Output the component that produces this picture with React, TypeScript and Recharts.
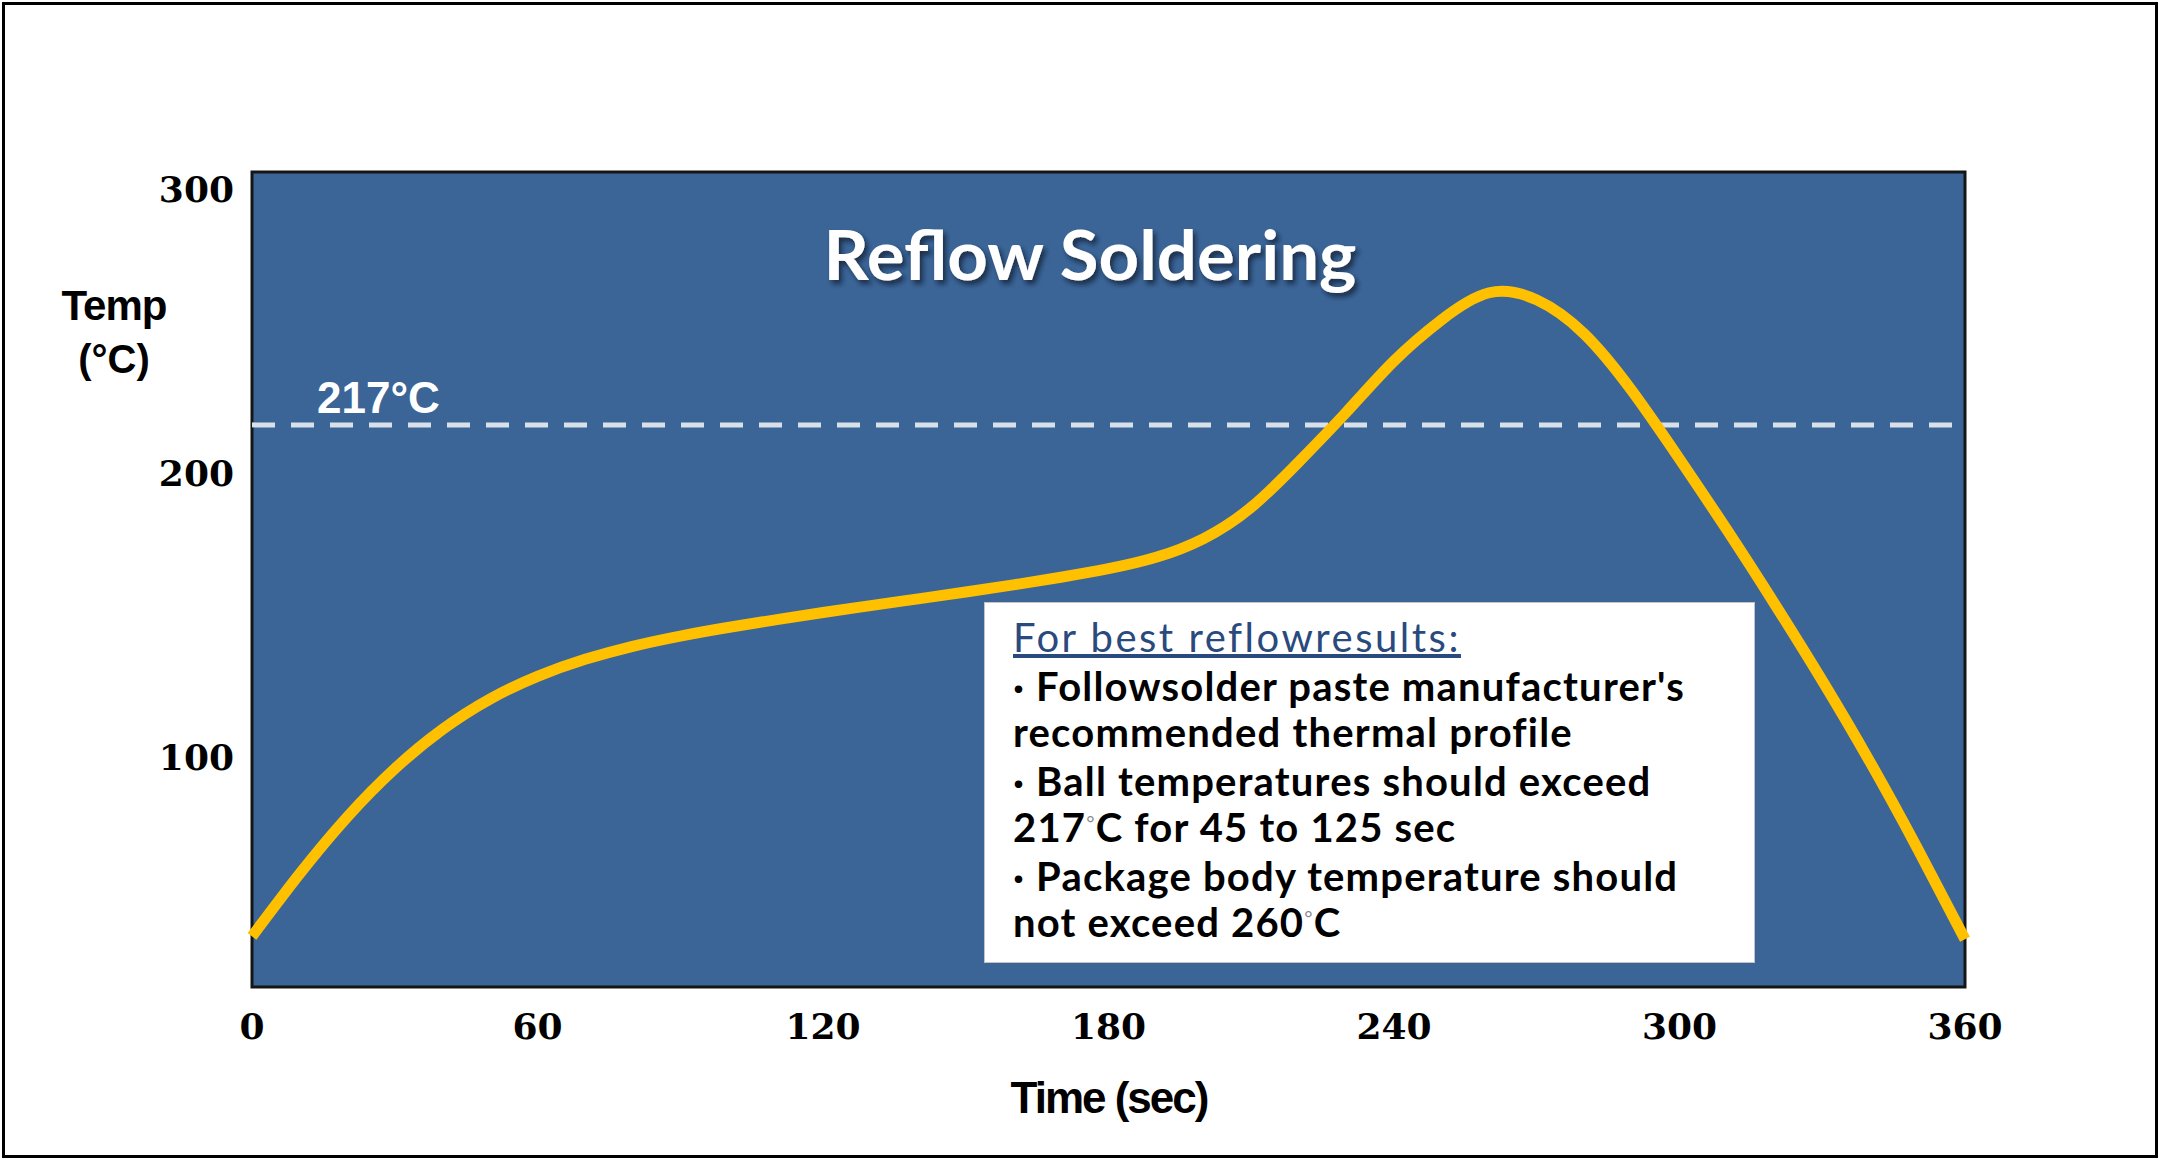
import {
  CartesianGrid,
  Line,
  LineChart,
  ReferenceArea,
  ReferenceLine,
  XAxis,
  YAxis,
} from "recharts";

// reflow profile, every 10 s
const timeSec = [0, 10, 20, 30, 40, 50, 60, 70, 80, 90, 100, 110, 120, 130, 140, 150, 160, 170, 180, 190, 200, 210, 220, 230, 240, 250, 260, 270, 280, 290, 300, 310, 320, 330, 340, 350, 360];
const tempC = [37, 59, 79, 96, 109.8, 120.5, 128.5, 134.5, 139.1, 142.7, 145.7, 148.4, 151, 153.4, 155.8, 158.2, 160.7, 163.4, 166.4, 170.4, 177, 188, 204, 221.5, 239.5, 254, 263.5, 261, 249, 229, 205, 180, 154, 127, 98.5, 68, 36];

const xTicks = [0, 60, 120, 180, 240, 300, 360];
const yTicks = [100, 200, 300];
const yDomain = [19.2, 306];
const liquidusC = 217;

const noteTitle = "For best reflowresults:";
const noteLines = [
  { text: "· Followsolder paste manufacturer's", bullet: true },
  { text: "recommended thermal profile", bullet: false },
  { text: "· Ball temperatures should exceed", bullet: true },
  { text: "217°C for 45 to 125 sec", bullet: false },
  { text: "· Package body temperature should", bullet: true },
  { text: "not exceed 260°C", bullet: false },
];

const profile = timeSec.map((t, i) => ({ t, temp: tempC[i] }));

const tickStyle = {
  fill: "#000",
  fontFamily: "DejaVu Serif",
  fontWeight: 700,
  fontSize: 36,
};

const PLOT_BG = "#3B6597";

function renderDegree(text: string) {
  // small grey degree mark like the original
  const parts = text.split("°");
  if (parts.length < 2) return text;
  return (
    <>
      {parts[0]}
      <span style={{ fontSize: 20, color: "#888", position: "relative", top: -12, fontWeight: 400, lineHeight: 0 }}>°</span>
      {parts[1]}
    </>
  );
}

export default function App() {
  return (
    <div style={{ position: "absolute", left: 0, top: 0, width: 2160, height: 1160, background: "#fff" }}>
      <LineChart
        width={2160}
        height={1160}
        data={profile}
        margin={{ top: 172, right: 195, bottom: 113, left: 0 }}
      >
        <CartesianGrid fill={PLOT_BG} stroke="none" horizontal={false} vertical={false} />
        <XAxis
          dataKey="t"
          type="number"
          domain={[0, 360]}
          ticks={xTicks}
          interval={0}
          height={60}
          axisLine={false}
          tickLine={false}
          tickSize={6}
          tickMargin={20}
          tick={tickStyle}
        />
        <YAxis
          type="number"
          domain={yDomain}
          ticks={yTicks}
          allowDataOverflow
          interval={0}
          width={252}
          axisLine={false}
          tickLine={false}
          tickSize={6}
          tickMargin={12}
          tick={tickStyle}
        />
        <ReferenceArea
          x1={0}
          x2={360}
          y1={yDomain[0]}
          y2={yDomain[1]}
          fill="none"
          stroke="#151515"
          strokeWidth={3}
        />
        <ReferenceLine
          y={liquidusC}
          stroke="#D8E0EA"
          strokeWidth={5}
          strokeDasharray="23 16"
          label={(props: any) => (
            <text
              x={props.viewBox.x + 65}
              y={props.viewBox.y - 12}
              fill="#fff"
              fontFamily="Liberation Sans"
              fontWeight={700}
              fontSize={44}
            >
              {liquidusC}°C
            </text>
          )}
        />
        <Line
          type="natural"
          dataKey="temp"
          stroke="#FFC000"
          strokeWidth={11}
          dot={false}
          isAnimationActive={false}
        />
      </LineChart>

      <svg
        width={2160}
        height={1160}
        style={{ position: "absolute", left: 0, top: 0, pointerEvents: "none" }}
      >
        <defs>
          <filter id="titleShadow" x="-10%" y="-30%" width="120%" height="170%">
            <feDropShadow dx="3" dy="4" stdDeviation="2.5" floodColor="#0d1a2e" floodOpacity="0.75" />
          </filter>
        </defs>
        <text
          x={1090}
          y={280}
          textAnchor="middle"
          fontFamily="Lato"
          fontWeight={700}
          fontSize={68}
          fill="#fff"
          textLength={533}
          lengthAdjust="spacingAndGlyphs"
          filter="url(#titleShadow)"
        >
          Reflow Soldering
        </text>
        <text x={114} y={320} textAnchor="middle" fontFamily="Liberation Sans" fontWeight={700} fontSize={42} letterSpacing={-1}>
          Temp
        </text>
        <text x={114} y={373} textAnchor="middle" fontFamily="Liberation Sans" fontWeight={700} fontSize={40}>
          (°C)
        </text>
        <text x={1109} y={1113} textAnchor="middle" fontFamily="Liberation Sans" fontWeight={700} fontSize={44} letterSpacing={-2}>
          Time (sec)
        </text>
      </svg>

      <div
        style={{
          position: "absolute",
          left: 984,
          top: 602,
          width: 771,
          height: 361,
          boxSizing: "border-box",
          background: "#fff",
          border: "1px solid #c4c4c4",
          padding: "11px 0 0 28px",
          fontFamily: "Lato",
          fontSize: 40,
          whiteSpace: "nowrap",
        }}
      >
        <div style={{ lineHeight: "46px", color: "#2A4A7E", textDecoration: "underline", letterSpacing: 2.5 }}>
          {noteTitle}
        </div>
        {noteLines.map((line) => (
          <div
            key={line.text}
            style={{
              lineHeight: "46px",
              marginTop: line.bullet ? 3 : 0,
              fontWeight: 700,
              color: "#000",
              letterSpacing: 1.2,
            }}
          >
            {renderDegree(line.text)}
          </div>
        ))}
      </div>

      <div
        style={{
          position: "absolute",
          left: 2,
          top: 2,
          width: 2156,
          height: 1156,
          boxSizing: "border-box",
          border: "3px solid #000",
          pointerEvents: "none",
        }}
      />
    </div>
  );
}
